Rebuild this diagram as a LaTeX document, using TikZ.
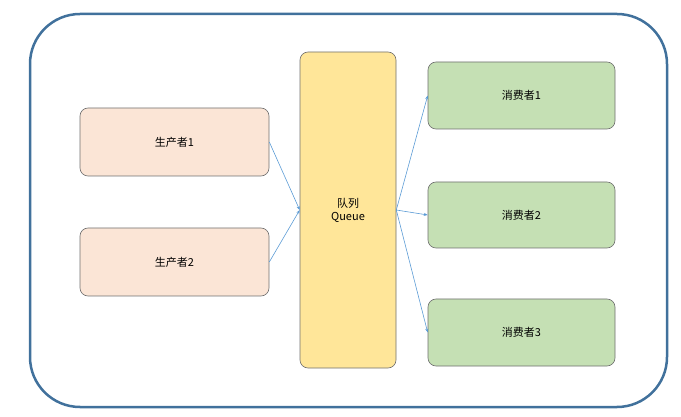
\documentclass[tikz,border=0pt]{standalone}
\usepackage{fontspec}
\setmainfont{Noto Sans CJK SC}
\usetikzlibrary{arrows.meta}
\definecolor{outerc}{HTML}{41719C}
\definecolor{prodc}{HTML}{FBE5D6}
\definecolor{queuec}{HTML}{FFE699}
\definecolor{consc}{HTML}{C5E0B4}
\definecolor{edgec}{HTML}{5B9BD5}
\definecolor{bordc}{HTML}{6F6F6F}
\begin{document}
\begin{tikzpicture}[x=1pt,y=-1pt,
  boxst/.style={draw=bordc,line width=0.6pt,rounded corners=8pt,inner sep=0pt,font=\fontsize{11}{13}\selectfont},
  conn/.style={draw=edgec,line width=0.6pt,-{Stealth[length=4pt,width=3pt]}}]
\useasboundingbox (0,0) rectangle (681,417);
\node[draw=outerc,line width=2.5pt,rounded corners=50pt,minimum width=637pt,minimum height=393pt] (outer) at (348.5,210.5) {};
\node[boxst,fill=prodc,minimum width=189pt,minimum height=68pt] (p1) at (174.5,142) {生产者1};
\node[boxst,fill=prodc,minimum width=189pt,minimum height=68pt] (p2) at (174.5,262) {生产者2};
\node[boxst,fill=queuec,minimum width=96pt,minimum height=316pt,align=center] (q) at (348,210) {队列\\Queue};
\node[boxst,fill=consc,minimum width=187pt,minimum height=67pt] (c1) at (521.5,95.5) {消费者1};
\node[boxst,fill=consc,minimum width=187pt,minimum height=66pt] (c2) at (521.5,215) {消费者2};
\node[boxst,fill=consc,minimum width=187pt,minimum height=67pt] (c3) at (521.5,332.5) {消费者3};
\draw[conn] (p1.east) -- (q.west);
\draw[conn] (p2.east) -- (q.west);
\draw[conn] (q.east) -- (c1.west);
\draw[conn] (q.east) -- (c2.west);
\draw[conn] (q.east) -- (c3.west);
\end{tikzpicture}
\end{document}
